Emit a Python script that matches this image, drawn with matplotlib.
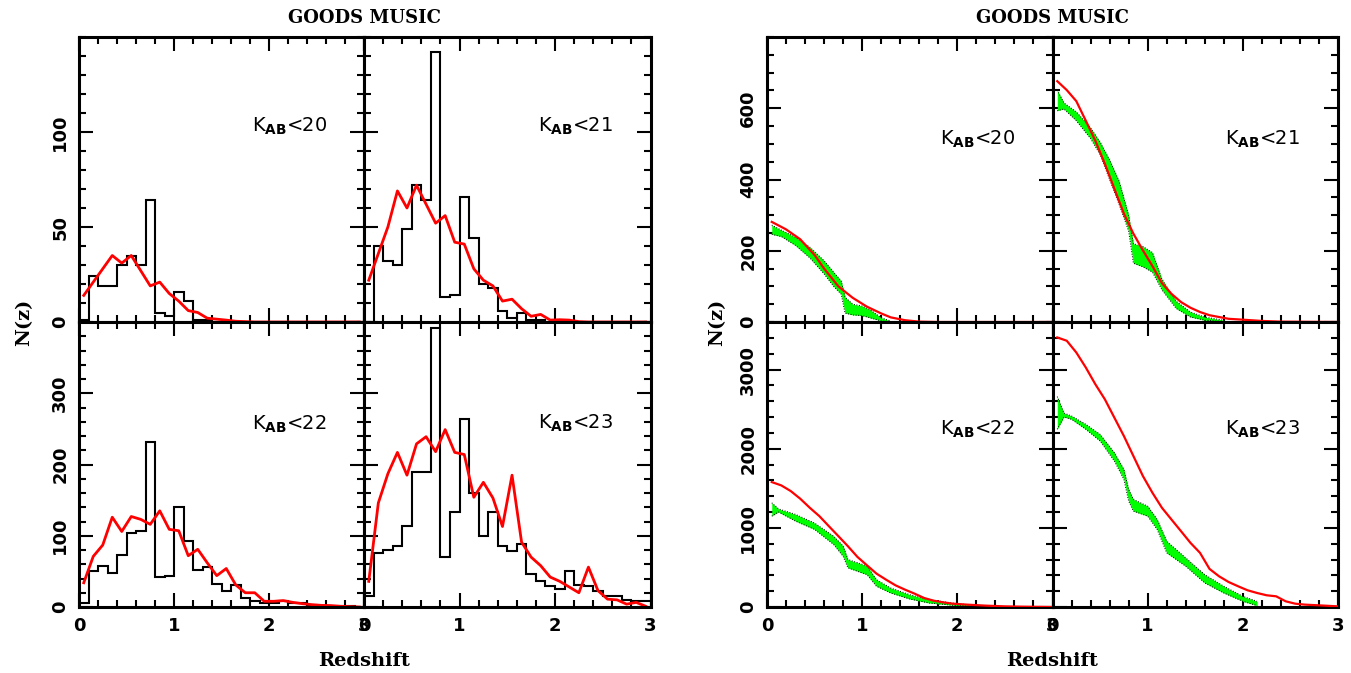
import numpy as np
import matplotlib
matplotlib.use('Agg')
import matplotlib.pyplot as plt
from matplotlib.ticker import MultipleLocator, FixedLocator, NullFormatter

# ---------------- data ----------------
bin_edges = np.round(np.arange(0, 3.001, 0.1), 2)
bin_centers = np.round(bin_edges[:-1] + 0.05, 3)

# observed histograms (left figure)
hist_k20 = [1, 24, 19, 19, 30, 35, 30, 64, 5, 3, 16, 11, 1, 1, 0, 0, 0, 0, 0, 0,
            0, 0, 0, 0, 0, 0, 0, 0, 0, 0]
hist_k21 = [0, 40, 32, 30, 49, 72, 64, 142, 13, 14, 66, 44, 20, 18, 6, 2, 5, 1, 1, 0,
            0, 0, 0, 0, 0, 0, 0, 0, 0, 0]
hist_k22 = [6, 51, 57, 48, 73, 104, 106, 231, 42, 44, 140, 92, 52, 56, 32, 23, 31, 13, 8, 6,
            6, 9, 6, 5, 3, 2, 2, 1, 1, 0]
hist_k23 = [16, 76, 80, 86, 113, 189, 190, 391, 70, 134, 264, 160, 100, 133, 85, 79, 88, 46, 36, 30,
            25, 50, 31, 29, 22, 15, 16, 10, 9, 8]

# photometric N(z) (red, left figure)
red_k20 = [14, 21, 28, 35, 31, 35, 27, 19, 21, 15, 11, 6, 5, 2, 1.5, 1, 0.4, 0.2, 0, 0,
           0, 0, 0, 0, 0, 0, 0, 0, 0, 0]
red_k21 = [22, 36, 50, 69, 60, 72, 62, 52, 56, 42, 41, 28, 22, 19, 11, 12, 7, 3, 4, 1,
           1.2, 1, 0.2, 0, 0, 0, 0, 0, 0, 0]
red_k22 = [34, 71, 87, 126, 106, 127, 123, 116, 135, 109, 107, 72, 81, 62, 44, 54, 31, 20, 20, 8,
           8, 9, 6.5, 4.7, 3.3, 2.3, 2, 1, 0.5, 0]
red_k23 = [36, 146, 187, 217, 185, 229, 239, 218, 249, 217, 214, 154, 175, 153, 113, 185, 91, 70, 58, 42,
           36, 28, 20, 56, 23, 11, 10, 4, 6.5, 1]

# model curves (red, right figure)
model_z_k20 = [0.05, 0.2, 0.35, 0.5, 0.6, 0.75, 0.9, 1.05, 1.2, 1.3, 1.45, 1.6, 1.8, 3.0]
model_k20 = [281, 260, 232, 188, 150, 100, 68, 43, 24, 13, 5, 1, 0, 0]
model_z_k21 = [0.05, 0.15, 0.25, 0.35, 0.45, 0.55, 0.65, 0.75, 0.85, 0.95, 1.05, 1.15, 1.25, 1.35,
               1.45, 1.55, 1.65, 1.75, 1.85, 2.0, 2.2, 2.4, 3.0]
model_k21 = [676, 651, 620, 565, 509, 444, 374, 304, 248, 201, 157, 109, 79, 56,
             40, 28, 19, 14, 9, 6.5, 3, 1, 0]
model_z_k22 = [0.05, 0.15, 0.25, 0.35, 0.45, 0.55, 0.65, 0.75, 0.85, 0.95, 1.05, 1.15, 1.25, 1.35,
               1.45, 1.55, 1.65, 1.75, 1.85, 1.95, 2.1, 2.3, 2.5, 2.7, 3.0]
model_k22 = [1578, 1536, 1464, 1367, 1253, 1148, 1021, 895, 768, 633, 527, 422, 346, 274,
             219, 169, 114, 80, 59, 42, 30, 17, 8, 4, 0]
model_z_k23 = [0.05, 0.15, 0.25, 0.35, 0.45, 0.55, 0.65, 0.75, 0.85, 0.95, 1.05, 1.15, 1.25, 1.35,
               1.45, 1.55, 1.65, 1.75, 1.85, 1.95, 2.05, 2.15, 2.25, 2.35, 2.45, 2.55, 2.65, 2.8, 3.0]
model_k23 = [3405, 3363, 3215, 3025, 2814, 2624, 2392, 2160, 1907, 1654, 1443, 1253, 1105, 958,
             810, 684, 481, 388, 316, 262, 211, 177, 148, 135, 72, 42, 30, 21, 8]

# observed band (green, right figure): lower / upper envelopes
band_z_k20 = [0.05, 0.15, 0.3, 0.45, 0.6, 0.7, 0.78, 0.82, 0.9, 1.0, 1.08, 1.2, 1.3]
band_lo_k20 = [246, 240, 215, 180, 135, 100, 78, 25, 20, 18, 12, 3, 1]
band_hi_k20 = [272, 258, 238, 210, 172, 140, 115, 70, 50, 45, 35, 12, 3]
band_z_k21 = [0.05, 0.12, 0.25, 0.4, 0.5, 0.6, 0.7, 0.8, 0.85, 0.95, 1.05, 1.15, 1.3, 1.45, 1.6, 1.8]
band_lo_k21 = [593, 598, 565, 515, 470, 400, 330, 255, 165, 155, 140, 90, 38, 14, 5, 1]
band_hi_k21 = [651, 615, 590, 545, 505, 455, 395, 300, 220, 212, 195, 120, 58, 28, 14, 5]
band_z_k22 = [0.05, 0.12, 0.3, 0.5, 0.7, 0.8, 0.85, 1.0, 1.05, 1.15, 1.3, 1.5, 1.7, 2.0, 2.15]
band_lo_k22 = [1148, 1200, 1085, 980, 790, 640, 495, 430, 410, 262, 177, 101, 51, 17, 10]
band_hi_k22 = [1316, 1240, 1170, 1060, 895, 770, 600, 540, 520, 346, 240, 156, 93, 42, 25]
band_z_k23 = [0.05, 0.12, 0.2, 0.35, 0.5, 0.65, 0.75, 0.8, 0.85, 1.0, 1.1, 1.2, 1.4, 1.6, 1.8, 2.0, 2.15]
band_lo_k23 = [2245, 2400, 2371, 2245, 2097, 1844, 1612, 1338, 1211, 1148, 979, 684, 515, 304, 177, 72, 17]
band_hi_k23 = [2658, 2450, 2413, 2308, 2181, 1949, 1738, 1485, 1359, 1274, 1105, 831, 620, 409, 262, 135, 72]

panel_labels = ['20', '21', '22', '23']

# ---------------- figure ----------------
W, H = 1351, 673
fig = plt.figure(figsize=(W / 100, H / 100), dpi=100)
fig.patch.set_facecolor('white')

TICKFONT = dict(family='DejaVu Sans', weight='bold', size=13)
LABFONT = dict(family='DejaVu Serif', weight='bold', size=14)
TITLEFONT = dict(family='DejaVu Serif', weight='bold', size=13)


def ax_at(x0, x1, y0, y1):
    return fig.add_axes([x0 / W, 1 - y1 / H, (x1 - x0) / W, (y1 - y0) / H])


def style(ax, ymax, ymaj, ymin, show_x, show_y):
    ax.set_xlim(0, 3)
    ax.set_ylim(0, ymax)
    ax.xaxis.set_major_locator(FixedLocator([0, 1, 2, 3]))
    ax.xaxis.set_minor_locator(MultipleLocator(0.2))
    ax.yaxis.set_major_locator(FixedLocator(ymaj))
    ax.yaxis.set_minor_locator(MultipleLocator(ymin))
    ax.tick_params(which='both', direction='in', top=True, right=True, width=1.5)
    ax.tick_params(which='major', length=10)
    ax.tick_params(which='minor', length=5)
    ax.tick_params(axis='x', pad=7)
    ax.tick_params(axis='y', pad=7)
    for s in ax.spines.values():
        s.set_linewidth(2.2)
    if show_x:
        ax.set_xticklabels(['0', '1', '2', '3'], fontdict=TICKFONT)
    else:
        ax.xaxis.set_major_formatter(NullFormatter())
    if show_y:
        ax.set_yticklabels([str(v) for v in ymaj], fontdict=TICKFONT, rotation=90, va='center')
    else:
        ax.yaxis.set_major_formatter(NullFormatter())


cols_left = [(79, 364), (364, 650.5)]
cols_right = [(767, 1052.5), (1052.5, 1338)]
rows = [(37, 322), (322, 607)]

hists = [hist_k20, hist_k21, hist_k22, hist_k23]
reds = [red_k20, red_k21, red_k22, red_k23]
left_ylim = [150, 150, 400, 400]
left_major = [[0, 50, 100], [0, 50, 100], [0, 100, 200, 300], [0, 100, 200, 300]]
left_minor = [10, 10, 20, 20]
left_txt_y = [0.668, 0.668, 0.621, 0.625]

for i in range(4):
    r, c = divmod(i, 2)
    ax = ax_at(cols_left[c][0], cols_left[c][1], rows[r][0], rows[r][1])
    ax.stairs(hists[i], bin_edges, color='black', linewidth=1.5, baseline=0)
    ax.plot(bin_centers, reds[i], color='#ff0000', linewidth=2.0)
    style(ax, left_ylim[i], left_major[i], left_minor[i], show_x=(r == 1), show_y=(c == 0))
    ax.text(0.606, left_txt_y[i], r'K$_{\mathbf{AB}}$<' + panel_labels[i],
            transform=ax.transAxes, fontsize=14, va='baseline', ha='left', family='DejaVu Sans')

models_z = [model_z_k20, model_z_k21, model_z_k22, model_z_k23]
models = [model_k20, model_k21, model_k22, model_k23]
bands_z = [band_z_k20, band_z_k21, band_z_k22, band_z_k23]
bands_lo = [band_lo_k20, band_lo_k21, band_lo_k22, band_lo_k23]
bands_hi = [band_hi_k20, band_hi_k21, band_hi_k22, band_hi_k23]
right_ylim = [800, 800, 3600, 3600]
right_major = [[0, 200, 400, 600], [0, 200, 400, 600], [0, 1000, 2000, 3000], [0, 1000, 2000, 3000]]
right_minor = [50, 50, 200, 200]
right_txt_y = [0.621, 0.621, 0.603, 0.603]

for i in range(4):
    r, c = divmod(i, 2)
    ax = ax_at(cols_right[c][0], cols_right[c][1], rows[r][0], rows[r][1])
    ax.fill_between(bands_z[i], bands_lo[i], bands_hi[i], color='#00ff00', linewidth=0, zorder=2)
    ax.plot(bands_z[i], bands_lo[i], color='black', linestyle=':', linewidth=0.7, zorder=2.1)
    ax.plot(bands_z[i], bands_hi[i], color='black', linestyle=':', linewidth=0.7, zorder=2.1)
    ax.plot(models_z[i], models[i], color='#ff0000', linewidth=1.6, zorder=3)
    style(ax, right_ylim[i], right_major[i], right_minor[i], show_x=(r == 1), show_y=(c == 0))
    ax.text(0.605, right_txt_y[i], r'K$_{\mathbf{AB}}$<' + panel_labels[i],
            transform=ax.transAxes, fontsize=14, va='baseline', ha='left', family='DejaVu Sans')

for xc, ylab_x in [(364, 24), (1052.5, 717)]:
    fig.text(xc / W, 1 - 18 / H, 'GOODS MUSIC', ha='center', va='center', **TITLEFONT)
    fig.text(xc / W, 1 - 661 / H, 'Redshift', ha='center', va='center', **LABFONT)
    fig.text(ylab_x / W, 1 - 322 / H, 'N(z)', ha='center', va='center', rotation=90, **LABFONT)

fig.savefig('out.png', dpi=100, facecolor='white')
